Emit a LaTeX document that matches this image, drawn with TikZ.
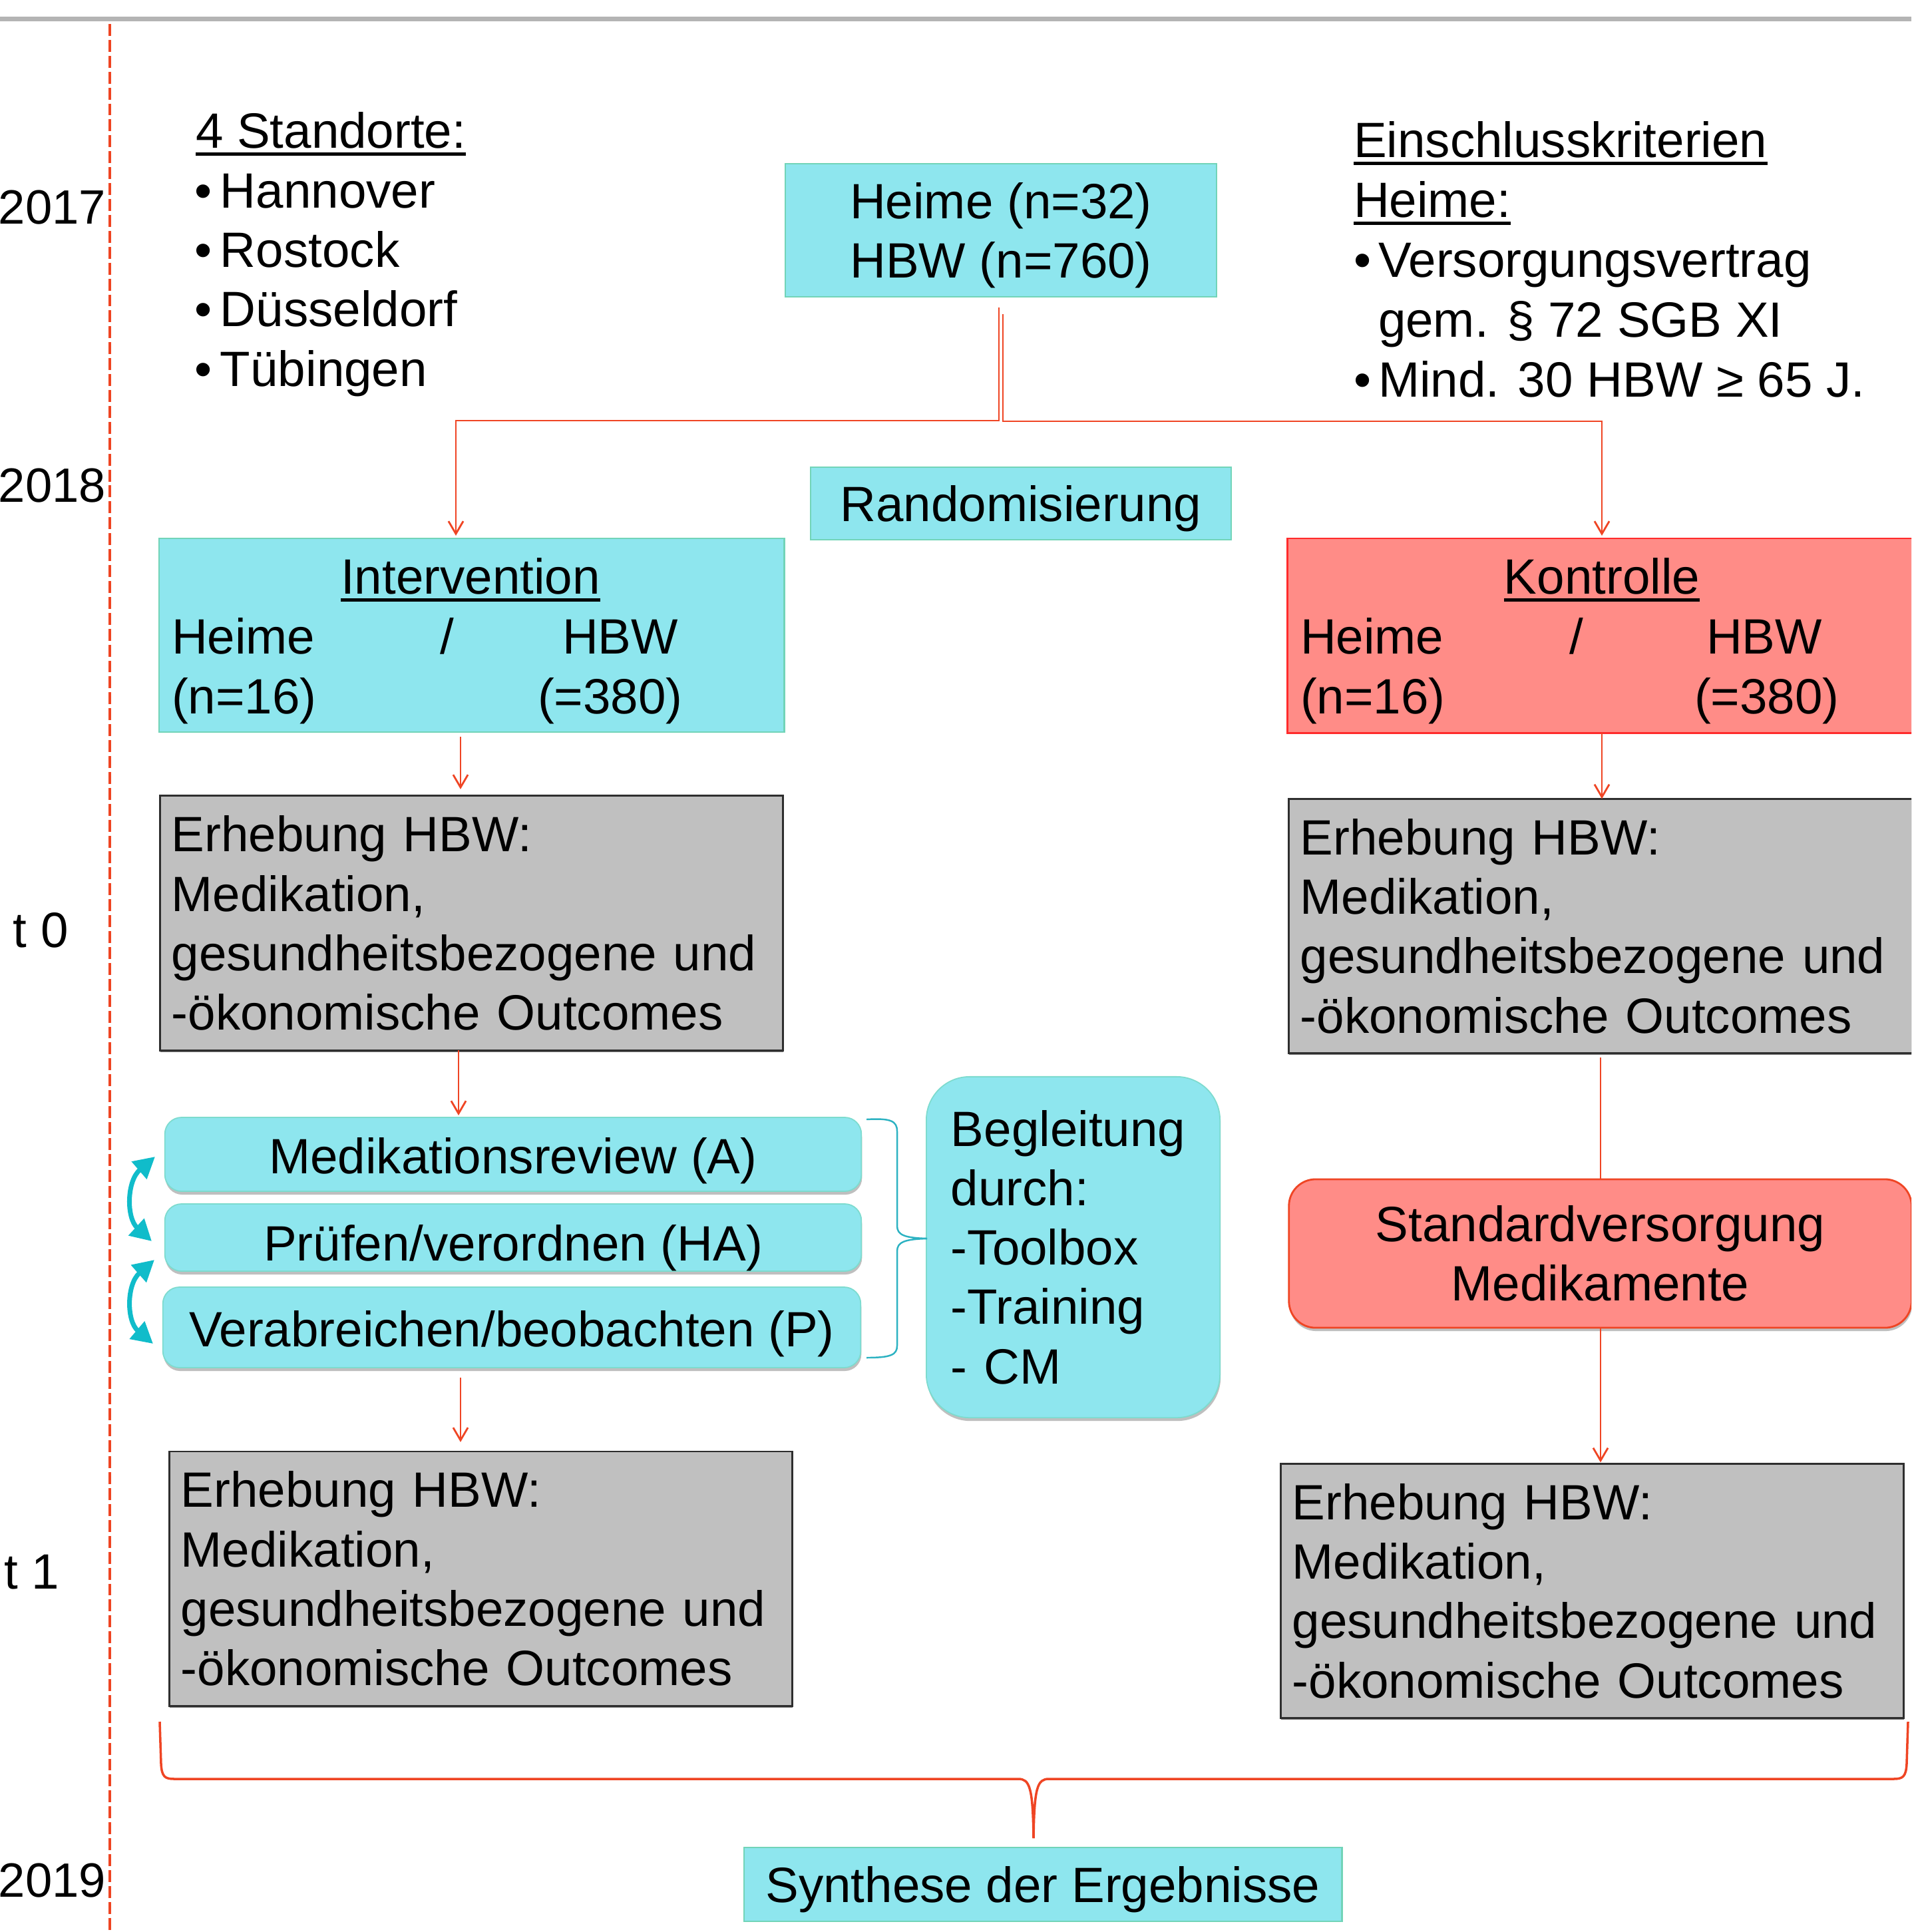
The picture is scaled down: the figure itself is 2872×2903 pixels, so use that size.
\documentclass[tikz,border=0pt]{standalone}
\usepackage{fontspec}
\setmainfont{Liberation Sans}
\usetikzlibrary{arrows.meta,calc,shadows}
\definecolor{cyanfill}{HTML}{8EE6EE}
\definecolor{cyanedge}{HTML}{72D4B8}
\definecolor{salmon}{HTML}{FF8C87}
\definecolor{redge}{HTML}{FF2B2B}
\definecolor{grayfill}{HTML}{C0C0C0}
\definecolor{grayedge}{HTML}{2E2E2E}
\definecolor{conncol}{HTML}{EF4524}
\definecolor{tealarr}{HTML}{10BCCA}
\definecolor{tealbrace}{HTML}{2CB2C2}
\definecolor{topline}{HTML}{B4B4B4}
\definecolor{dashcol}{HTML}{EE4422}
\setlength\parindent{0pt}
\newsavebox\ulbox
\newcommand\ulx[1]{\sbox\ulbox{#1}\rlap{\rule[-3.4pt]{\wd\ulbox}{1.3pt}}\usebox\ulbox}
\newcommand\fsz{\fontsize{21.2pt}{25.4pt}\selectfont}
\newcommand\fyr{\fontsize{20.6pt}{25.4pt}\selectfont}
\begin{document}
\begin{tikzpicture}[x=0.01cm,y=-0.01cm,
  every node/.style={font=\fsz,inner sep=0pt,outer sep=0pt},
  lbl/.style={anchor=base west},
  yearlbl/.style={anchor=base east,font=\fyr},
  cyanrect/.style={draw=cyanedge,line width=0.7pt,fill=cyanfill,align=center},
  redrect/.style={draw=redge,line width=0.8pt,fill=salmon},
  grayrect/.style={draw=grayedge,line width=0.8pt,fill=grayfill,align=left,
    inner xsep=0.17cm,text width=9.01cm,minimum width=9.35cm,minimum height=3.82cm,
    drop shadow={shadow xshift=0.004cm,shadow yshift=-0.025cm,fill=black,opacity=0.5}},
  stepround/.style={draw=cyanedge!60!cyanfill,line width=0.5pt,fill=cyanfill,
    rounded corners=0.25cm,align=center,minimum width=10.46cm,text depth=0pt,
    drop shadow={shadow xshift=0.01cm,shadow yshift=-0.05cm,fill=black,opacity=0.25}},
  beglround/.style={draw=cyanedge!60!cyanfill,line width=0.5pt,fill=cyanfill,
    rounded corners=0.65cm,align=left,inner xsep=0.37cm,text width=3.67cm,
    minimum width=4.41cm,minimum height=5.12cm,
    drop shadow={shadow xshift=0.01cm,shadow yshift=-0.05cm,fill=black,opacity=0.25}},
  redround/.style={draw=conncol,line width=0.8pt,fill=salmon,rounded corners=0.4cm,
    align=center,minimum width=9.35cm,minimum height=2.23cm,
    drop shadow={shadow xshift=0.01cm,shadow yshift=-0.05cm,fill=black,opacity=0.25}},
  conn/.style={draw=conncol,line width=0.8pt,-{Straight Barb[length=5.4pt,width=6.3pt]}},
  plainconn/.style={draw=conncol,line width=0.8pt},
  cyclearrow/.style={draw=tealarr,line width=2pt,
    {Triangle[length=9pt,width=9.5pt]}-{Triangle[length=9pt,width=9.5pt]}},
  bracecol/.style={draw=tealbrace,line width=0.7pt},
  bigbrace/.style={draw=conncol,line width=1pt}
]
\useasboundingbox (0,0) rectangle (2872,2903);
\clip (0,0) rectangle (2872,2903);

% top line and time axis
\draw[topline,line width=2pt] (0,28.5) -- (2872,28.5);
\draw[dashcol,line width=1.4pt,dash pattern=on 5.1pt off 1.7pt] (165,36) -- (165,2903);

% year labels
\node[yearlbl] (y2017) at (159,337) {2017};
\node[yearlbl] (y2018) at (159,754) {2018};
\node[lbl] (yt0) at (20,1423) {t 0};
\node[lbl] (yt1) at (6,2387) {t 1};
\node[yearlbl] (y2019) at (159,2850) {2019};

% Standorte
\node[lbl] (st0) at (294,222) {\ulx{4 Standorte:}};
\node[lbl] (st1) at (292,312) {\makebox[0.39cm][l]{•}Hannover};
\node[lbl] (st2) at (292,401) {\makebox[0.39cm][l]{•}Rostock};
\node[lbl] (st3) at (292,490) {\makebox[0.39cm][l]{•}Düsseldorf};
\node[lbl] (st4) at (292,580) {\makebox[0.39cm][l]{•}Tübingen};

% Einschlusskriterien
\node[lbl] (ek0) at (2034,236) {\ulx{Einschlusskriterien}};
\node[lbl] (ek1) at (2034,326) {\ulx{Heime:}};
\node[lbl] (ek2) at (2034,416) {\makebox[0.37cm][l]{•}Versorgungsvertrag};
\node[lbl] (ek3) at (2071,506) {gem. § 72 SGB XI};
\node[lbl] (ek4) at (2034,596) {\makebox[0.37cm][l]{•}Mind. 30 HBW ≥ 65 J.};

% top boxes
\node[cyanrect,minimum width=6.48cm,minimum height=2.0cm,text depth=0pt] (heime) at (1504,346) {Heime (n=32)\\HBW (n=760)};
\node[cyanrect,minimum width=6.32cm,minimum height=1.09cm,text depth=0pt] (rand) at (1534,756.5) {Randomisierung};

% Intervention
\node[cyanrect,minimum width=9.39cm,minimum height=2.91cm] (interv) at (708.5,954.5) {};
\node[anchor=base] (intT) at (707,892) {\ulx{Intervention}};
\node[lbl] (intA) at (258,982) {Heime};
\node[lbl] (intS) at (661,982) {/};
\node[lbl] (intB) at (845,982) {HBW};
\node[lbl] (intC) at (258,1072) {(n=16)};
\node[lbl] (intD) at (808,1072) {(=380)};

% Kontrolle (extends beyond the right edge)
\node[redrect,minimum width=9.70cm,minimum height=2.92cm] (kontr) at (2420,955) {};
\node[anchor=base] (konT) at (2407,892) {\ulx{Kontrolle}};
\node[lbl] (konA) at (1954,982) {Heime};
\node[lbl] (konS) at (2358,982) {/};
\node[lbl] (konB) at (2564,982) {HBW};
\node[lbl] (konC) at (1954,1072) {(n=16)};
\node[lbl] (konD) at (2546,1072) {(=380)};

% Erhebung boxes
\node[grayrect] (e1) at (708.5,1387) {Erhebung HBW:\\Medikation,\\gesundheitsbezogene und\\-ökonomische Outcomes};
\node[grayrect,text width=9.29cm,minimum width=9.63cm] (e2) at (2418.5,1391.5) {Erhebung HBW:\\Medikation,\\gesundheitsbezogene und\\-ökonomische Outcomes};
\node[grayrect] (e3) at (722.5,2372) {Erhebung HBW:\\Medikation,\\gesundheitsbezogene und\\-ökonomische Outcomes};
\node[grayrect] (e4) at (2392.5,2390.5) {Erhebung HBW:\\Medikation,\\gesundheitsbezogene und\\-ökonomische Outcomes};

% intervention steps
\node[stepround,minimum height=1.11cm,text height=16.5pt] (med) at (771,1734.5) {Medikationsreview (A)};
\node[stepround,minimum height=1.01cm,text height=20pt] (pruef) at (771,1859.5) {Prüfen/verordnen (HA)};
\node[stepround,minimum height=1.21cm,minimum width=10.48cm,text height=16.5pt] (verab) at (769,1994.5) {Verabreichen/beobachten (P)};

\node[beglround] (begl) at (1612.5,1874) {Begleitung\\durch:\\-Toolbox\\-Training\\- CM};

\node[redround] (std) at (2404.5,1883.5) {Standardversorgung\\Medikamente};

\node[cyanrect,minimum width=8.98cm,minimum height=1.11cm,text depth=0pt] (synth) at (1567,2831.5) {Synthese der Ergebnisse};

% connectors
\coordinate (c1) at (692,0);
\coordinate (c2) at (689,0);
\coordinate (c3) at (2405,0);
\coordinate (c4) at (2407,0);
\draw[conn] ($(heime.south)+(-3,16)$) -- ++(0,170) -| ($(interv.north)+(-23.5,-4)$);
\draw[conn,shorten >=0.04cm] ($(heime.south)+(3,26)$) -- ++(0,161) -| (c4 |- kontr.north);

\draw[conn,shorten <=0.07cm,shorten >=0.1cm] (c1 |- interv.south) -- (c1 |- e1.north);
\draw[conn] (c4 |- kontr.south) -- (c4 |- e2.north);
\draw[conn,shorten >=0.03cm] (c2 |- e1.south) -- (c2 |- med.north);
\draw[conn,shorten <=0.15cm,shorten >=0.14cm] (c1 |- verab.south) -- (c1 |- e3.north);
\draw[plainconn,shorten <=0.06cm] (c3 |- e2.south) -- (c3 |- std.north);
\draw[conn,shorten >=0.02cm] (c3 |- std.south) -- (c3 |- e4.north);

% cycle arrows
\coordinate (a1s) at (233,1738);
\coordinate (a1e) at (228,1865);
\coordinate (a2s) at (232,1893);
\coordinate (a2e) at (230,2019);
\draw[cyclearrow] (a1s) .. controls (190,1775) and (190,1830) .. (a1e);
\draw[cyclearrow] (a2s) .. controls (190,1930) and (190,1985) .. (a2e);

% small brace towards Begleitung
\draw[bracecol] (1302,1682) .. controls (1338,1680) and (1348,1684) .. (1348,1700)
  -- (1348,1842) .. controls (1348,1856) and (1360,1860) .. (1393,1861);
\draw[bracecol] (1393,1861) .. controls (1360,1862) and (1348,1866) .. (1348,1880)
  -- (1348,2022) .. controls (1348,2036) and (1338,2040) .. (1302,2040);

% big brace towards Synthese
\draw[bigbrace] (240,2587) -- (242,2650) .. controls (243,2670) and (248,2673) .. (262,2673)
  -- (1530,2673) .. controls (1547,2673) and (1552,2685) .. (1553,2762);
\draw[bigbrace] (2867,2587) -- (2865,2650) .. controls (2864,2670) and (2859,2673) .. (2845,2673)
  -- (1576,2673) .. controls (1559,2673) and (1554,2685) .. (1553,2762);

\end{tikzpicture}
\end{document}
